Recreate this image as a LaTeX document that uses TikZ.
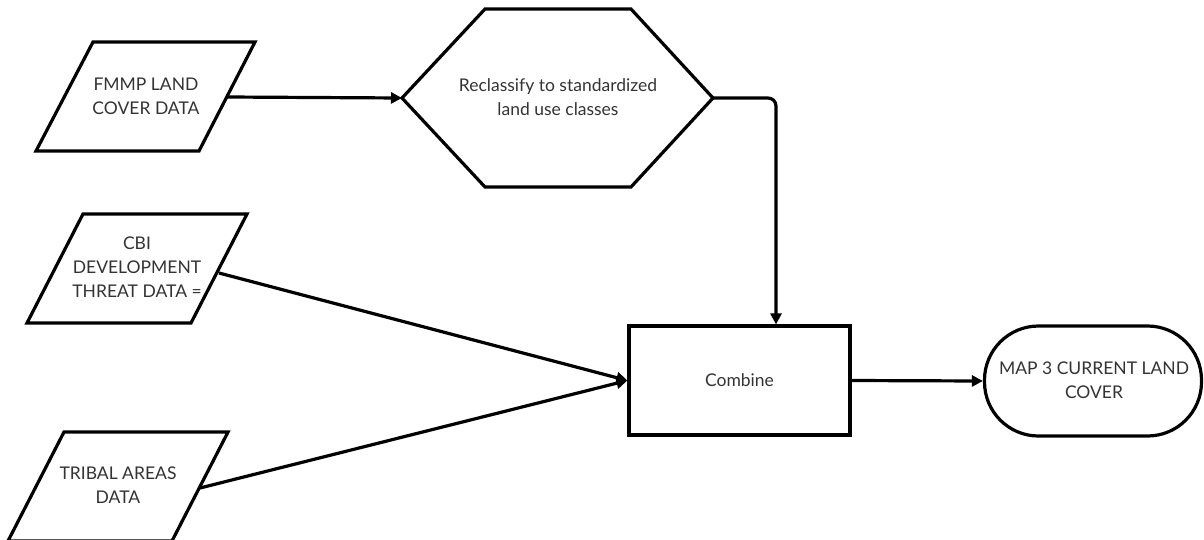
\documentclass[tikz,border=0pt]{standalone}
\usepackage{fontspec}
\setmainfont{Lato}
\usetikzlibrary{arrows.meta}
\definecolor{txt}{HTML}{333333}
\tikzset{
  shapeline/.style={draw=black, line width=3.2pt, line join=miter},
  conn/.style={draw=black, line width=3.2pt, -{Triangle[length=11pt,width=11pt]}},
  lbl/.style={text=txt, font=\fontsize{17.5}{24}\selectfont, align=center, inner sep=0pt},
}
\begin{document}
\begin{tikzpicture}[x=1pt,y=-1pt]
\useasboundingbox (0,0) rectangle (1204,539);
% FMMP parallelogram
\draw[shapeline] (93,42) -- (255,42) -- (199,151) -- (36,151) -- cycle;
\node[lbl] (fmmp) at (146,96) {FMMP LAND\\COVER DATA};
\coordinate (fmmpR) at (228,97);
% CBI parallelogram
\draw[shapeline] (83,214) -- (247,214) -- (191,323) -- (27,323) -- cycle;
\node[lbl] (cbi) at (137,267) {CBI\\DEVELOPMENT\\THREAT DATA =};
\coordinate (cbiR) at (219,273);
% Tribal parallelogram
\draw[shapeline] (64,432) -- (228,432) -- (172,541) -- (8,541) -- cycle;
\node[lbl] (tribal) at (118,485) {TRIBAL AREAS\\DATA};
\coordinate (tribalR) at (200,488);
% Hexagon
\draw[shapeline] (402,98) -- (485,9) -- (631,9) -- (713,98) -- (631,187) -- (485,187) -- cycle;
\node[lbl] (recl) at (558,97) {Reclassify to standardized\\land use classes};
\coordinate (reclL) at (402,98);
\coordinate (reclR) at (713,98);
\coordinate (bend) at (776,98);
% Combine
\node[shapeline, minimum width=221pt, minimum height=109pt, inner sep=0pt] (comb) at (739.5,380.5) {};
\node[lbl] (combt) at (739.5,380.5) {Combine};
% Terminal
\node[shapeline, rounded corners=54pt, minimum width=217pt, minimum height=110pt, inner sep=0pt] (map) at (1093,381) {};
\node[lbl] (mapt) at (1094,380) {MAP 3 CURRENT LAND\\COVER};
% connectors
\draw[conn] (fmmpR) -- (reclL);
\draw[conn, rounded corners=8pt] (reclR) -- (bend) -- (bend |- comb.north);
\draw[conn] (cbiR) -- (comb.west);
\draw[conn] (tribalR) -- (comb.west);
\draw[conn] (comb.east) -- (map.west);
\end{tikzpicture}
\end{document}
